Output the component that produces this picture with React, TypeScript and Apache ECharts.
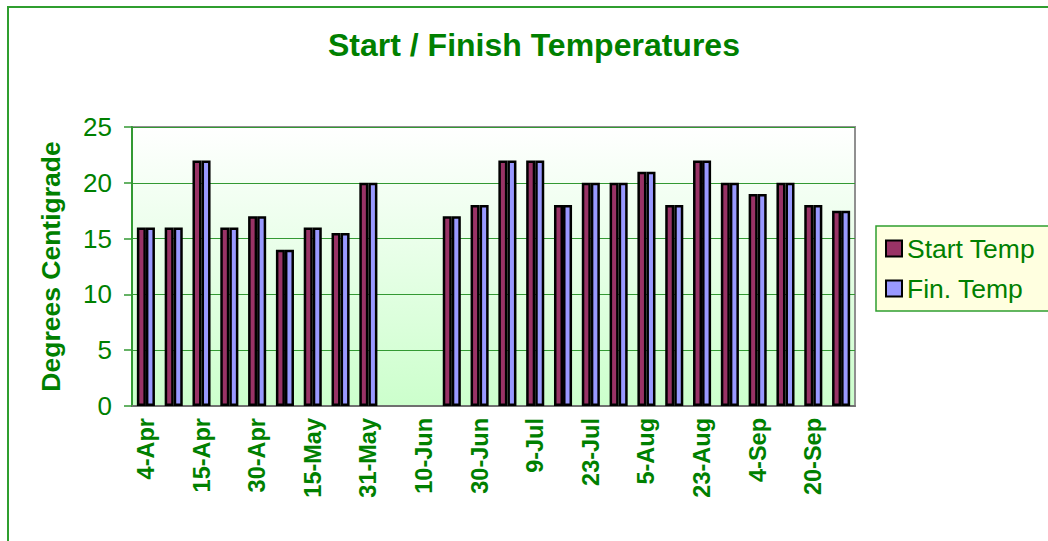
import React, { useEffect, useRef } from "react";
import * as echarts from "echarts";

const categories = [
  "4-Apr", "9-Apr", "15-Apr", "23-Apr", "30-Apr", "8-May", "15-May", "23-May",
  "31-May", "4-Jun", "10-Jun", "20-Jun", "30-Jun", "4-Jul", "9-Jul", "16-Jul",
  "23-Jul", "30-Jul", "5-Aug", "14-Aug", "23-Aug", "28-Aug", "4-Sep", "12-Sep",
  "20-Sep", "27-Sep",
];
const startTemp: (number | null)[] = [
  16, 16, 22, 16, 17, 14, 16, 15.5, 20, null, null, 17, 18, 22, 22, 18, 20, 20,
  21, 18, 22, 20, 19, 20, 18, 17.5,
];
const finTemp: (number | null)[] = [
  16, 16, 22, 16, 17, 14, 16, 15.5, 20, null, null, 17, 18, 22, 22, 18, 20, 20,
  21, 18, 22, 20, 19, 20, 18, 17.5,
];
const yTicks = { min: 0, max: 25, interval: 5 };

const GREEN = "#008000";
const FONT = "'Liberation Sans', Arial, sans-serif";

export default function App() {
  const ref = useRef<HTMLDivElement>(null);
  useEffect(() => {
    document.body.style.margin = "0";
    if (!ref.current) return;
    const chart = echarts.init(ref.current, null, { renderer: "svg" });
    chart.setOption({
      animation: false,
      backgroundColor: "#ffffff",
      textStyle: { fontFamily: FONT },
      title: {
        text: "Start / Finish Temperatures",
        left: 323,
        top: 24,
        textStyle: { color: GREEN, fontSize: 32, fontWeight: "bold", fontFamily: FONT },
      },
      graphic: [
        {
          type: "rect",
          shape: { x: 8, y: 7, width: 1080, height: 580 },
          style: { fill: "none", stroke: "#2f9e2f", lineWidth: 2 },
          silent: true,
        },
      ],
      legend: {
        orient: "vertical",
        left: 876,
        top: 226,
        backgroundColor: "#ffffe0",
        borderColor: "#2f9e2f",
        borderWidth: 1.5,
        padding: [9, 60, 9, 9],
        itemWidth: 16,
        itemHeight: 16,
        itemGap: 13,
        itemTextGap: 9,
        icon: "rect",
        textStyle: { color: GREEN, fontSize: 26.5, fontFamily: FONT },
        data: ["Start Temp", "Fin. Temp"],
      },
      grid: {
        left: 132,
        top: 127,
        right: 193,
        bottom: 135,
        show: true,
        borderColor: "#909090",
        borderWidth: 2,
        backgroundColor: new echarts.graphic.LinearGradient(0, 0, 0, 1, [
          { offset: 0, color: "#ffffff" },
          { offset: 1, color: "#ccffcc" },
        ]),
      },
      xAxis: {
        type: "category",
        data: categories,
        boundaryGap: true,
        axisLine: { lineStyle: { color: "#707070", width: 2 } },
        axisTick: { interval: 0, length: 7, lineStyle: { color: "#339933", width: 1.5 } },
        axisLabel: {
          interval: 1,
          rotate: 90,
          margin: 12,
          color: GREEN,
          fontSize: 23.5,
          fontWeight: "bold",
          fontFamily: FONT,
        },
      },
      yAxis: {
        type: "value",
        min: yTicks.min,
        max: yTicks.max,
        interval: yTicks.interval,
        name: "Degrees Centigrade",
        nameLocation: "middle",
        nameRotate: 90,
        nameGap: 68,
        nameTextStyle: { color: GREEN, fontSize: 26.5, fontWeight: "bold", fontFamily: FONT },
        axisLine: { show: true, lineStyle: { color: "#339933", width: 2 } },
        axisTick: { show: true, length: 8, lineStyle: { color: "#339933", width: 1.5 } },
        axisLabel: { color: GREEN, fontSize: 26, margin: 20, fontFamily: FONT },
        splitLine: { lineStyle: { color: "#339933", width: 1 } },
      },
      series: [
        {
          name: "Start Temp",
          type: "bar",
          data: startTemp,
          barGap: "0%",
          barCategoryGap: "35%",
          itemStyle: { color: "#993366", borderColor: "#000000", borderWidth: 2.5 },
        },
        {
          name: "Fin. Temp",
          type: "bar",
          data: finTemp,
          barGap: "0%",
          barCategoryGap: "35%",
          itemStyle: { color: "#9999ff", borderColor: "#000000", borderWidth: 2.5 },
        },
      ],
    });
    return () => chart.dispose();
  }, []);
  return <div ref={ref} style={{ width: 1048, height: 541 }} />;
}
